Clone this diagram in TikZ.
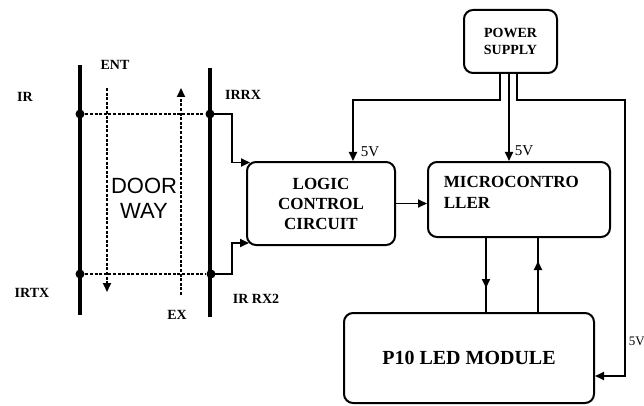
\documentclass[tikz,border=0pt]{standalone}
\usepackage{fontspec}
\setmainfont{Liberation Serif}
\newfontfamily\doorfont{Liberation Sans}
\usetikzlibrary{arrows.meta,positioning,calc}

\begin{document}
\begin{tikzpicture}[
    x=1pt, y=-1pt,
    blk/.style={draw, rounded corners=9pt, line width=2pt},
    lbl/.style={font=\fontsize{14}{16}\selectfont\bfseries},
    volt/.style={font=\fontsize{15}{17}\selectfont},
    wall/.style={line width=3.6pt},
    beam/.style={dash pattern=on 3pt off 1.6pt, line width=2pt},
    dot/.style={circle, fill, inner sep=0pt, minimum size=9pt},
    >={Triangle[length=9pt,width=8pt]}, line width=1.8pt
]
\useasboundingbox (0,0) rectangle (644,406);

% doorway
\draw[wall] (80,65) -- (80,315);
\draw[wall] (210,68) -- (210,317);
\node[dot] (irt) at (80,114) {};
\node[dot] (rrx) at (210,114) {};
\node[dot] (irb) at (80,274) {};
\node[dot] (rx2) at (211,274) {};
\draw[beam] (irt) -- (rrx);
\draw[beam] (irb) -- (rx2);
\coordinate (enttop) at (107,88);
\coordinate (entbot) at (107,292);
\coordinate (exbot) at (181,295);
\coordinate (extop) at (181,88);
\draw[beam,->] (enttop) -- (entbot);
\draw[beam,->] (exbot) -- (extop);
\node[font=\doorfont\fontsize{22}{25}\selectfont, align=center] (door) at (144,198) {DOOR\\WAY};

\node[lbl] (ir) at (25,97) {IR};
\node[lbl] (ent) at (115,65) {ENT};
\node[lbl] (irrx) at (243,95) {IRRX};
\node[lbl] (irtx) at (32,293) {IRTX};
\node[lbl] (ex) at (177,315) {EX};
\node[lbl] (irrx2) at (256,299) {IR RX2};

% blocks
\node[blk, minimum width=148pt, minimum height=83pt, align=center,
      font=\fontsize{17}{20}\selectfont\bfseries] (logic) at (321,203.5) {LOGIC\\CONTROL\\CIRCUIT};
\node[blk, minimum width=182pt, minimum height=75pt] (micro) at (519,199.5) {};
\node[font=\fontsize{17}{21}\selectfont\bfseries, align=left, anchor=north west, inner sep=0pt]
      (mctext) at (443,175) {MICROCONTRO\\LLER};
\node[blk, minimum width=93pt, minimum height=63pt, align=center,
      font=\fontsize{14}{17}\selectfont\bfseries] (power) at (510.5,41.5) {POWER\\SUPPLY};
\node[blk, minimum width=250pt, minimum height=90pt,
      font=\fontsize{20}{24}\selectfont\bfseries] (led) at (469,358) {P10 LED MODULE};

% sensor inputs
\draw[->] (rrx.center) -- ++(22,0) |- ($(logic.north west)+(4,1.5)$);
\draw[->] (rx2.center) -- ++(21,0) |- ($(logic.south west)+(3,-3)$);
\draw[->] (logic.east) -- (logic.east -| micro.west);

% supply lines
\coordinate (psa) at ($(power.south)+(-10.5,0)$);
\coordinate (psb) at ($(power.south)+(-1.5,0)$);
\coordinate (psc) at ($(power.south)+(6.5,0)$);
\coordinate (rtn) at (625,376);
\draw[->] (psa) -- ++(0,26) -| ($(logic.north)+(32,0)$);
\draw[->] (psb) -- (psb |- micro.north);
\draw[->] (psc) -- ++(0,26) -| (rtn) -- (rtn -| led.east);
\node[volt] (v1) at (370,152) {5V};
\node[volt] (v2) at (524,151) {5V};
\node[volt, anchor=west, inner sep=0pt, font=\fontsize{13}{15}\selectfont] (v3) at (628,341) {5V};

% micro <-> led
\coordinate (mdn) at ($(micro.south)+(-33,0)$);
\coordinate (mup) at ($(micro.south)+(19,0)$);
\draw[->] (mdn) -- ++(0,50);
\draw (mdn) -- (mdn |- led.north);
\draw[->] (mup |- led.north) -- ++(0,-51);
\draw (mup |- led.north) -- (mup);
\end{tikzpicture}
\end{document}
